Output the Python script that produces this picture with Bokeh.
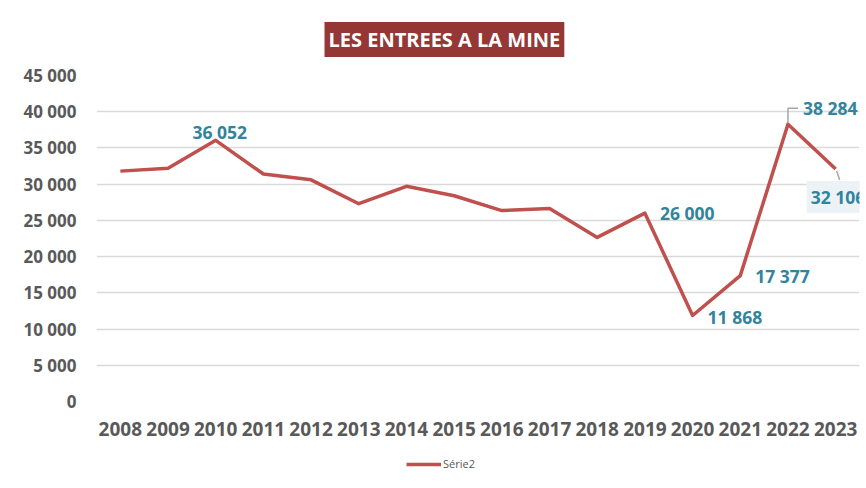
from bokeh.plotting import figure
from bokeh.layouts import column
from bokeh.models import (ColumnDataSource, FixedTicker, Range1d, Title, Legend, LegendItem)
from bokeh.embed import file_html
from bokeh.resources import INLINE
from bokeh.core.properties import value

# ---- data ----
years = [2008, 2009, 2010, 2011, 2012, 2013, 2014, 2015, 2016, 2017, 2018, 2019, 2020, 2021, 2022, 2023]
entrees = [31800, 32200, 36052, 31400, 30600, 27300, 29700, 28400, 26350, 26650, 22650, 26000, 11868, 17377, 38284, 32106]
year_labels = [str(y) for y in years]

y_ticks = [0, 5000, 10000, 15000, 20000, 25000, 30000, 35000, 40000, 45000]
y_tick_labels = ["0", "5 000", "10 000", "15 000", "20 000", "25 000", "30 000", "35 000", "40 000", "45 000"]

labelled_years = [2010, 2019, 2020, 2021, 2022, 2023]
series_name = "Série2"
title_text = "LES ENTREES A LA MINE"

def fr(v):
    return f"{v:,}".replace(",", " ")

FONT = "Open Sans"
LINE_COLOR = "#C0504D"
LABEL_COLOR = "#31849B"
AXIS_COLOR = "#595959"
GRID_COLOR = "#D9D9D9"
LEADER_COLOR = "#A6A6A6"

W, FL, FR_, FT, FB = 866, 96, 7, 75, 49
H = 450
X0, X1, Y0, Y1 = 2007.5, 2023.5, 0, 45000

p = figure(width=W, height=H, output_backend="svg", toolbar_location=None,
           x_range=Range1d(X0, X1), y_range=Range1d(Y0, Y1),
           min_border_left=FL, min_border_right=FR_, min_border_top=FT, min_border_bottom=FB)
p.outline_line_color = None
p.background_fill_color = "white"
p.border_fill_color = "white"

# pixel -> data conversion (for small label leader lines)
frame_w = W - FL - FR_
frame_h = H - FT - FB
dxpx = (X1 - X0) / frame_w
dypx = (Y1 - Y0) / frame_h

# axes
p.xaxis.ticker = FixedTicker(ticks=years)
p.xaxis.major_label_overrides = {y: l for y, l in zip(years, year_labels)}
p.yaxis.ticker = FixedTicker(ticks=y_ticks)
p.yaxis.major_label_overrides = {t: l for t, l in zip(y_ticks, y_tick_labels)}
for ax in (p.xaxis, p.yaxis):
    ax.axis_line_color = None
    ax.major_tick_line_color = None
    ax.minor_tick_line_color = None
    ax.major_label_text_font = FONT
    ax.major_label_text_font_style = "bold"
    ax.major_label_text_color = AXIS_COLOR
p.xaxis.major_label_text_font_size = "19px"
p.yaxis.major_label_text_font_size = "17px"
p.xaxis.major_label_standoff = 14
p.yaxis.major_label_standoff = 14

p.xgrid.grid_line_color = None
p.ygrid.ticker = FixedTicker(ticks=y_ticks)
p.ygrid.grid_line_color = GRID_COLOR
p.ygrid.grid_line_width = 1.5

# line
src = ColumnDataSource(dict(x=years, y=entrees))
r = p.line("x", "y", source=src, line_color=LINE_COLOR, line_width=3.5, line_join="round")

# leader lines for the two last labels
v22 = entrees[years.index(2022)]
v23 = entrees[years.index(2023)]
p.line([2022, 2022, 2022 + 10 * dxpx], [v22 + 2 * dypx, v22 + 16 * dypx, v22 + 16 * dypx],
       line_color=LEADER_COLOR, line_width=1.5)
p.line([2023 + 1 * dxpx, 2023 + 4 * dxpx], [v23 - 2 * dypx, v23 - 11 * dypx],
       line_color=LEADER_COLOR, line_width=1.5)

# data labels
lab_vals = [entrees[years.index(y)] for y in labelled_years]
x_off = [4, 15, 15, 15, 15, -29]
y_off = [-8, 0, 1, 0, -16, 28]
aligns = ["center", "left", "left", "left", "left", "left"]
bgs = [None, None, None, None, None, "#EDF2F7"]
for i in range(len(labelled_years)):
    kw = {}
    if bgs[i]:
        kw = dict(background_fill_color=bgs[i], padding=[4, 1, 4, 4])
    p.text(x=[labelled_years[i]], y=[lab_vals[i]], text=[fr(lab_vals[i])],
           x_offset=x_off[i], y_offset=y_off[i], text_align=aligns[i],
           text_baseline="middle", text_font=value(FONT), text_font_style="bold",
           text_font_size="17.5px", text_color=LABEL_COLOR, **kw)

# title
t = Title(text=title_text, align="left", offset=228,
          text_font=FONT, text_font_style="bold", text_font_size="20px",
          text_color="white", background_fill_color="#953735",
          padding=4, standoff=37)
p.add_layout(t, "above")

# legend strip (separate figure below the chart)
p2 = figure(width=W, height=488 - H, output_backend="svg", toolbar_location=None,
            x_range=Range1d(X0, X1), y_range=Range1d(Y0, Y1), min_border=0)
p2.axis.visible = False
p2.grid.visible = False
p2.outline_line_color = None
p2.border_fill_color = "white"
r2 = p2.line(years, entrees, line_color=LINE_COLOR, line_width=3.5, visible=False)
legend = Legend(items=[LegendItem(label=series_name, renderers=[r2])], orientation="horizontal",
                location=(310, 17), label_text_font=FONT, label_text_font_size="11px",
                label_text_color=AXIS_COLOR, glyph_width=35, glyph_height=10,
                label_standoff=2, border_line_color=None, background_fill_alpha=0,
                padding=0, margin=0)
p2.add_layout(legend, "center")

layout = column(p, p2, spacing=0)
open("out.html", "w").write(file_html(layout, INLINE))
